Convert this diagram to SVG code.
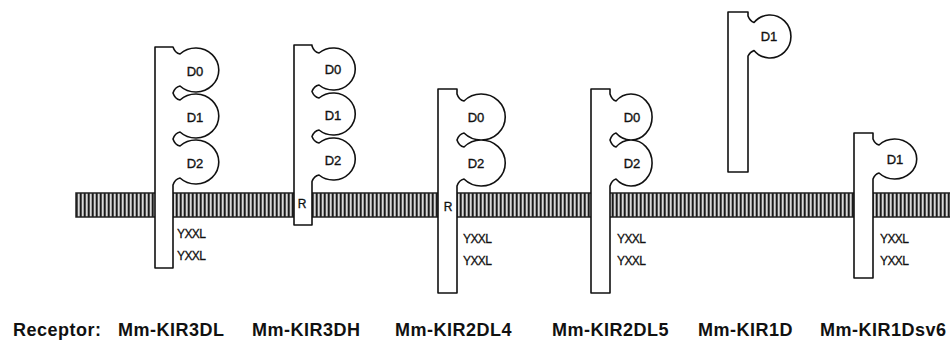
<svg xmlns="http://www.w3.org/2000/svg" width="950" height="343" viewBox="0 0 950 343">
<style>
.rc{fill:#fff;stroke:#111;stroke-width:1.6;stroke-linejoin:round}
.dl{font-family:"Liberation Sans",Arial,sans-serif;font-size:13px;fill:#111;stroke:#111;stroke-width:0.35;text-anchor:middle}
.mt{font-family:"Liberation Sans",Arial,sans-serif;font-size:12px;fill:#111;stroke:#111;stroke-width:0.3;letter-spacing:-0.6px}
.rl{font-family:"Liberation Sans",Arial,sans-serif;font-size:12px;fill:#111;stroke:#111;stroke-width:0.3;text-anchor:middle}
.nm{font-family:"Liberation Sans",Arial,sans-serif;font-size:18px;font-weight:bold;fill:#111;letter-spacing:0.5px}
</style>
<defs>
<pattern id="stripes" patternUnits="userSpaceOnUse" x="0" y="0" width="4" height="30">
<rect x="0" y="0" width="4" height="30" fill="#6a6a6a"/>
<rect x="0" y="0" width="1.3" height="30" fill="#1a1a1a"/>
<rect x="2.2" y="0" width="1.2" height="30" fill="#f4f4f4"/>
</pattern>
</defs>
<rect width="950" height="343" fill="#fff"/>
<g id="membrane">
<rect x="76" y="193" width="880" height="24" fill="url(#stripes)" stroke="#222" stroke-width="1.5"/>
</g>
<g id="Mm-KIR3DL">
<path class="rc" d="M155,47 H173 Q175,53 180,54 A23 22 0 1 1 180,86 Q175,87 173,93 Q175,99 180,100 A23 22 0 1 1 180,132 Q175,133 173,139 Q175,145 180,146 A23 22 0 1 1 180,178 Q175,179 173,185 V268 H155 Z"/>
<text class="dl" x="195" y="76">D0</text>
<text class="dl" x="195" y="122">D1</text>
<text class="dl" x="195" y="168">D2</text>
<text class="mt" x="177" y="238">YXXL</text>
<text class="mt" x="177" y="260">YXXL</text>
</g>
<g id="Mm-KIR3DH">
<path class="rc" d="M294,45 H312 V46 Q314,52 319,53 A22 21 0 1 1 319,85 Q314,86 312,91.5 Q314,97 319,98 A22 21 0 1 1 319,130 Q314,131 312,136.5 Q314,142 319,143 A22 21 0 1 1 319,175 Q314,176 312,181.5 V225 H294 Z"/>
<text class="dl" x="333" y="74">D0</text>
<text class="dl" x="333" y="120">D1</text>
<text class="dl" x="333" y="165">D2</text>
<text class="rl" x="302" y="208">R</text>
</g>
<g id="Mm-KIR2DL4">
<path class="rc" d="M438,89 H457 V94 Q459,100 464,101 A24 23 0 1 1 464,133 Q459,134 457,140 Q459,146 464,147 A24 23 0 1 1 464,179 Q459,180 457,186 V293 H438 Z"/>
<text class="dl" x="476" y="122">D0</text>
<text class="dl" x="476" y="168">D2</text>
<text class="rl" x="448" y="211">R</text>
<text class="mt" x="463" y="243">YXXL</text>
<text class="mt" x="463" y="265">YXXL</text>
</g>
<g id="Mm-KIR2DL5">
<path class="rc" d="M591,89 H610 V94 Q612,100 616,101 A21 23 0 1 1 616,133 Q612,134 610,140 Q612,146 616,147 A21 23 0 1 1 616,179 Q612,180 610,186 V293 H591 Z"/>
<text class="dl" x="632" y="122">D0</text>
<text class="dl" x="632" y="168">D2</text>
<text class="mt" x="617" y="243">YXXL</text>
<text class="mt" x="617" y="265">YXXL</text>
</g>
<g id="Mm-KIR1D">
<path class="rc" d="M728,12 H748 V16 Q750,21 754,22.5 A21 21.5 0 1 1 754,50.5 Q750,52 748,56 V172 H728 Z"/>
<text class="dl" x="769" y="41">D1</text>
</g>
<g id="Mm-KIR1Dsv6">
<path class="rc" d="M854,133 H873 V139 Q875,144 879,145 A22 20 0 1 1 879,173 Q875,174 873,179 V278 H854 Z"/>
<text class="dl" x="895" y="164">D1</text>
<text class="mt" x="880" y="243">YXXL</text>
<text class="mt" x="880" y="265">YXXL</text>
</g>
<g id="connectors"></g>
<g id="labels">
<text class="nm" x="13" y="336">Receptor:</text>
<text class="nm" x="118" y="336">Mm-KIR3DL</text>
<text class="nm" x="252" y="336">Mm-KIR3DH</text>
<text class="nm" x="395" y="336">Mm-KIR2DL4</text>
<text class="nm" x="552" y="336">Mm-KIR2DL5</text>
<text class="nm" x="698" y="336">Mm-KIR1D</text>
<text class="nm" x="820" y="336">Mm-KIR1Dsv6</text>
</g>
</svg>
